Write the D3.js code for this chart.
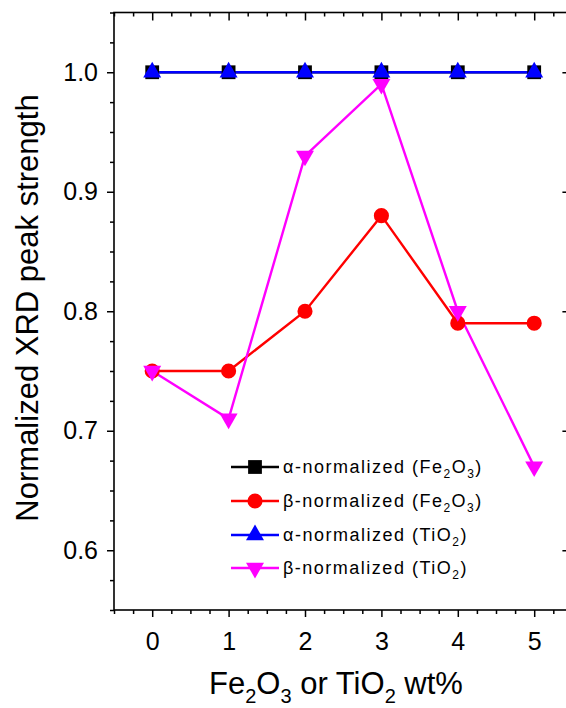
<!DOCTYPE html>
<html><head><meta charset="utf-8">
<script src="https://cdn.jsdelivr.net/npm/d3@7"></script>
<style>body{margin:0;background:#fff}svg{display:block}text{font-family:"Liberation Sans",Arial,sans-serif;fill:#000}</style>
</head><body><svg id="c" width="566" height="708"></svg>
<script>
// ---- data ----
const xValues = [0, 1, 2, 3, 4, 5];
const alphaFe2O3 = [1.00, 1.00, 1.00, 1.00, 1.00, 1.00];
const betaFe2O3  = [0.75, 0.75, 0.80, 0.88, 0.79, 0.79];
const alphaTiO2  = [1.00, 1.00, 1.00, 1.00, 1.00, 1.00];
const betaTiO2   = [0.75, 0.71, 0.93, 0.99, 0.80, 0.67];
const xTicks = [0, 1, 2, 3, 4, 5];
const yTicks = [0.6, 0.7, 0.8, 0.9, 1.0];
const seriesNames = [
  [["α-normalized (Fe", 0], ["2", 1], ["O", 0], ["3", 1], [")", 0]],
  [["β-normalized (Fe", 0], ["2", 1], ["O", 0], ["3", 1], [")", 0]],
  [["α-normalized (TiO", 0], ["2", 1], [")", 0]],
  [["β-normalized (TiO", 0], ["2", 1], [")", 0]]
];
const xTitle = [["Fe", 0], ["2", 1], ["O", 0], ["3", 1], [" or TiO", 0], ["2", 1], [" wt%", 0]];
const yTitle = "Normalized XRD peak strength";

const svg = d3.select("#c");
const L = 114, R = 572.4, T = 12.5, B = 610;
const x = d3.scaleLinear().domain([-0.5, 5.5]).range([L, R]);
const y = d3.scaleLinear().domain([0.55, 1.05]).range([B, T]);

const xMinor = d3.range(-0.5, 5.5001, 0.25).filter(v => Math.abs(v - Math.round(v)) > 1e-6);
const yMinor = d3.range(0.55, 1.0501, 0.025).filter(v => Math.abs(v * 10 - Math.round(v * 10)) > 1e-6);

function styleAxis(g) {
  g.select(".domain").remove();
  g.selectAll("line").attr("stroke", "#000").attr("stroke-width", 1.5);
}
svg.append("g").attr("transform", `translate(0,${B})`)
  .call(d3.axisBottom(x).tickValues(xTicks).tickSize(7).tickFormat(d3.format("d")))
  .call(styleAxis).call(g => g.selectAll("text").attr("font-size", 25).attr("dy", "0.71em").attr("y", 22));
svg.append("g").attr("transform", `translate(0,${B})`)
  .call(d3.axisBottom(x).tickValues(xMinor).tickSize(4).tickFormat(""))
  .call(styleAxis);
svg.append("g").attr("transform", `translate(0,${T})`)
  .call(d3.axisBottom(x).tickValues(xTicks).tickSize(8).tickFormat(""))
  .call(styleAxis);
svg.append("g").attr("transform", `translate(0,${T})`)
  .call(d3.axisBottom(x).tickValues(xMinor).tickSize(4).tickFormat(""))
  .call(styleAxis);
svg.append("g").attr("transform", `translate(${L},0)`)
  .call(d3.axisLeft(y).tickValues(yTicks).tickSize(7).tickFormat(d3.format(".1f")))
  .call(styleAxis).call(g => g.selectAll("text").attr("font-size", 25).attr("x", -16));
svg.append("g").attr("transform", `translate(${L},0)`)
  .call(d3.axisLeft(y).tickValues(yMinor).tickSize(4).tickFormat(""))
  .call(styleAxis);
svg.append("g").attr("transform", `translate(${R},0)`)
  .call(d3.axisLeft(y).tickValues(yTicks).tickSize(10).tickFormat(""))
  .call(styleAxis);
svg.append("g").attr("transform", `translate(${R},0)`)
  .call(d3.axisLeft(y).tickValues(yMinor).tickSize(5).tickFormat(""))
  .call(styleAxis);

svg.append("rect").attr("x", L).attr("y", T).attr("width", R - L).attr("height", B - T)
  .attr("fill", "none").attr("stroke", "#000").attr("stroke-width", 1.6);

const series = [
  { vals: alphaFe2O3, color: "#000000", sym: d3.symbolSquare, size: 190, rot: 0 },
  { vals: betaFe2O3,  color: "#ff0000", sym: d3.symbolCircle, size: 180, rot: 0 },
  { vals: alphaTiO2,  color: "#0000ff", sym: d3.symbolTriangle, size: 140, rot: 0 },
  { vals: betaTiO2,   color: "#ff00ff", sym: d3.symbolTriangle, size: 140, rot: 180 }
];
const line = d3.line().x((d, i) => x(xValues[i])).y(d => y(d));
series.forEach(s => {
  svg.append("path").datum(s.vals).attr("d", line)
    .attr("fill", "none").attr("stroke", s.color).attr("stroke-width", 2.4);
});
[0, 1, 3, 2].forEach(j => {
  const s = series[j];
  svg.append("g").selectAll("path").data(s.vals).join("path")
    .attr("d", d3.symbol(s.sym, s.size))
    .attr("transform", (d, i) => `translate(${x(xValues[i])},${y(d)}) rotate(${s.rot})`)
    .attr("fill", s.color);
});

const legY = [467, 501, 535, 568];
series.forEach((s, i) => {
  const g = svg.append("g").attr("transform", `translate(0,${legY[i]})`);
  g.append("line").attr("x1", 231).attr("x2", 279).attr("y1", 0).attr("y2", 0)
    .attr("stroke", s.color).attr("stroke-width", 2.4);
  g.append("path").attr("d", d3.symbol(s.sym, s.size)).attr("transform", `translate(255,0) rotate(${s.rot})`)
    .attr("fill", s.color);
  const t = g.append("text").attr("x", 283).attr("y", 6).attr("font-size", 18).attr("letter-spacing", 1.5);
  seriesNames[i].forEach(([txt, sub], k) => {
    const ts = t.append("tspan").text(txt);
    if (sub) ts.attr("font-size", 12).attr("dy", 5);
    else if (k > 0 && seriesNames[i][k - 1][1]) ts.attr("dy", -5);
  });
});

const xt = svg.append("text").attr("x", 336).attr("y", 694).attr("font-size", 31).attr("text-anchor", "middle");
xTitle.forEach(([txt, sub], k) => {
  const ts = xt.append("tspan").text(txt);
  if (sub) ts.attr("font-size", 20).attr("dy", 9);
  else if (k > 0 && xTitle[k - 1][1]) ts.attr("dy", -9);
});
svg.append("text").attr("transform", "translate(38,308) rotate(-90)")
  .attr("text-anchor", "middle").attr("font-size", 31).text(yTitle);
</script></body></html>
